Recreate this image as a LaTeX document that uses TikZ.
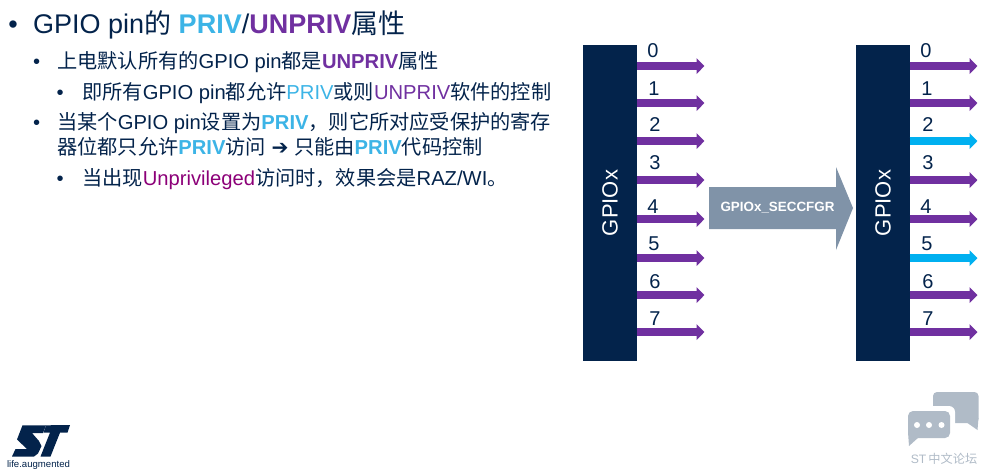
\documentclass[tikz,border=0pt]{standalone}
\usepackage{fontspec}
\setmainfont{Liberation Sans}
\newfontfamily\cjk{Noto Sans CJK SC}
\newfontfamily\symb{DejaVu Sans}
\usepackage{tikz}
\usetikzlibrary{arrows.meta}
\definecolor{stnavy}{HTML}{03234B}
\definecolor{stpriv}{HTML}{3CB4E6}
\definecolor{stunpriv}{HTML}{7030A0}
\definecolor{stunp}{HTML}{8C0078}
\definecolor{stcyan}{HTML}{00B0F0}
\definecolor{stgrey}{HTML}{8093A8}
\definecolor{sticon}{HTML}{B0BBC7}
\newcommand{\zh}[1]{{\cjk #1}}
\newcommand{\priv}[1]{{\bfseries\color{stpriv}#1}}
\newcommand{\unpriv}[1]{{\bfseries\color{stunpriv}#1}}
\tikzset{
  lineone/.style={anchor=base west, inner sep=0pt, text=stnavy, font=\fontsize{27}{32}\selectfont},
  linetwo/.style={anchor=base west, inner sep=0pt, text=stnavy, font=\fontsize{20.2}{24}\selectfont},
  gpiobar/.style={fill=stnavy, text=white, rotate=90, minimum width=316pt, minimum height=54pt, inner sep=0pt, font=\fontsize{22}{26}\selectfont},
  pinnum/.style={inner sep=0pt, text=stnavy, font=\fontsize{20}{24}\selectfont},
  pinarrow/.style={line width=8.5pt, draw=stunpriv, -{Triangle[length=8pt,width=15.5pt]}},
  privarrow/.style={pinarrow, draw=stcyan}
}
\begin{document}
\begin{tikzpicture}[x=1pt, y=-1pt]
  \useasboundingbox (0, 0) rectangle (987, 475);

  % text on the left
  \node[lineone] (B1) at (8.3, 33) {•};
  \node[lineone] (T1) at (33, 33) {GPIO pin\zh{的} \priv{PRIV}/\unpriv{UNPRIV}\zh{属性}};
  \node[linetwo] (B2) at (33, 68) {•};
  \node[linetwo] (T2) at (57, 68) {\zh{上电默认所有的}GPIO pin\zh{都是}\unpriv{UNPRIV}\zh{属性}};
  \node[linetwo] (B3) at (56.5, 99) {•};
  \node[linetwo] (T3) at (82, 99) {\zh{即所有}GPIO pin\zh{都允许}{\color{stpriv}PRIV}\zh{或则}{\color{stunpriv}UNPRIV}\zh{软件的控制}};
  \node[linetwo] (B4) at (33, 129) {•};
  \node[linetwo] (T4) at (57, 129) {\zh{当某个}GPIO pin\zh{设置为}\priv{PRIV}\zh{，则它所对应受保护的寄存}};
  \node[linetwo] (T5) at (57, 154) {\zh{器位都只允许}\priv{PRIV}\zh{访问} {\symb\bfseries ➔} \zh{只能由}\priv{PRIV}\zh{代码控制}};
  \node[linetwo] (B6) at (56.5, 185) {•};
  \node[linetwo] (T6) at (82, 185) {\zh{当出现}{\color{stunp}Unprivileged}\zh{访问时，效果会是}RAZ/WI\zh{。}};

  % left port
  \node[gpiobar] (PA) at (610, 203) {GPIOx};
  \node[pinnum] (AN0) at (653, 50.5) {0};
  \node[pinnum] (AN1) at (654, 89) {1};
  \node[pinnum] (AN2) at (655, 125) {2};
  \node[pinnum] (AN3) at (655, 163) {3};
  \node[pinnum] (AN4) at (653, 207) {4};
  \node[pinnum] (AN5) at (654, 244) {5};
  \node[pinnum] (AN6) at (655, 282) {6};
  \node[pinnum] (AN7) at (655, 319) {7};
  \coordinate (A0) at (637, 66);
  \coordinate (A1) at (637, 103);
  \coordinate (A2) at (637, 141);
  \coordinate (A3) at (637, 180);
  \coordinate (A4) at (637, 219);
  \coordinate (A5) at (637, 258);
  \coordinate (A6) at (637, 295);
  \coordinate (A7) at (637, 332);
  \coordinate (AE0) at (704.5, 66);
  \coordinate (AE1) at (704.5, 103);
  \coordinate (AE2) at (704.5, 141);
  \coordinate (AE3) at (704.5, 180);
  \coordinate (AE4) at (704.5, 219);
  \coordinate (AE5) at (704.5, 258);
  \coordinate (AE6) at (704.5, 295);
  \coordinate (AE7) at (704.5, 332);
  \draw[pinarrow] (A0) -- (AE0);
  \draw[pinarrow] (A1) -- (AE1);
  \draw[pinarrow] (A2) -- (AE2);
  \draw[pinarrow] (A3) -- (AE3);
  \draw[pinarrow] (A4) -- (AE4);
  \draw[pinarrow] (A5) -- (AE5);
  \draw[pinarrow] (A6) -- (AE6);
  \draw[pinarrow] (A7) -- (AE7);

  % big arrow
  \fill[stgrey] (709, 187) -- (836, 187) -- (836, 167) -- (853, 208) -- (836, 250) -- (836, 229) -- (709, 229) -- cycle;
  \node[inner sep=0pt, text=white, font=\fontsize{13.4}{16}\selectfont\bfseries] (CFG) at (777.5, 208) {GPIOx\_SECCFGR};

  % right port
  \node[gpiobar] (PB) at (883, 203) {GPIOx};
  \node[pinnum] (BN0) at (926, 50.5) {0};
  \node[pinnum] (BN1) at (927, 89) {1};
  \node[pinnum] (BN2) at (928, 125) {2};
  \node[pinnum] (BN3) at (928, 163) {3};
  \node[pinnum] (BN4) at (926, 207) {4};
  \node[pinnum] (BN5) at (927, 244) {5};
  \node[pinnum] (BN6) at (928, 282) {6};
  \node[pinnum] (BN7) at (928, 319) {7};
  \coordinate (C0) at (909.5, 66);
  \coordinate (C1) at (909.5, 103);
  \coordinate (C2) at (909.5, 141);
  \coordinate (C3) at (909.5, 180);
  \coordinate (C4) at (909.5, 219);
  \coordinate (C5) at (909.5, 258);
  \coordinate (C6) at (909.5, 295);
  \coordinate (C7) at (909.5, 332);
  \coordinate (CE0) at (977.5, 66);
  \coordinate (CE1) at (977.5, 103);
  \coordinate (CE2) at (977.5, 141);
  \coordinate (CE3) at (977.5, 180);
  \coordinate (CE4) at (977.5, 219);
  \coordinate (CE5) at (977.5, 258);
  \coordinate (CE6) at (977.5, 295);
  \coordinate (CE7) at (977.5, 332);
  \draw[pinarrow] (C0) -- (CE0);
  \draw[pinarrow] (C1) -- (CE1);
  \draw[privarrow] (C2) -- (CE2);
  \draw[pinarrow] (C3) -- (CE3);
  \draw[pinarrow] (C4) -- (CE4);
  \draw[privarrow] (C5) -- (CE5);
  \draw[pinarrow] (C6) -- (CE6);
  \draw[pinarrow] (C7) -- (CE7);

  % logo
  \fill[stnavy] (22.5, 425.3) -- (46, 425.3) -- (43, 433) -- (32, 433) -- (39, 441) -- (41.5, 446) -- (38, 453.5) -- (34, 456.5) -- (12, 456.5) -- (15.5, 449) -- (27, 449) -- (17, 439.5) -- cycle;
  \fill[stnavy] (46, 425.3) -- (70, 425) -- (67.5, 432.7) -- (60, 432.7) -- (50.5, 456.5) -- (40.5, 456.5) -- (50, 432.7) -- (43.5, 432.7) -- cycle;
  \node[inner sep=0pt, text=stnavy, font=\fontsize{9.6}{11}\selectfont] (LIFE) at (38.5, 465) {life.augmented};

  % chat icon
  \fill[sticon, rounded corners=4pt] (933, 392) -- (978.5, 392) -- (978.5, 423) -- (933, 423) -- cycle;
  \fill[sticon] (966, 422) -- (977.5, 430) -- (978.5, 418) -- cycle;
  \fill[white, rounded corners=6pt] (904, 406) -- (955, 406) -- (955, 442) -- (904, 442) -- cycle;
  \fill[sticon, rounded corners=5pt] (908, 411) -- (950, 411) -- (950, 438) -- (908, 438) -- cycle;
  \fill[sticon] (908, 432) -- (909, 446) -- (919, 437) -- cycle;
  \fill[white] (917, 425) circle (3);
  \fill[white] (929, 425) circle (3);
  \fill[white] (941.5, 425) circle (3);
  \node[inner sep=0pt, text=sticon, font=\fontsize{12.2}{14}\selectfont] (FORUM) at (944, 459) {ST\,\zh{中文论坛}};
\end{tikzpicture}
\end{document}
